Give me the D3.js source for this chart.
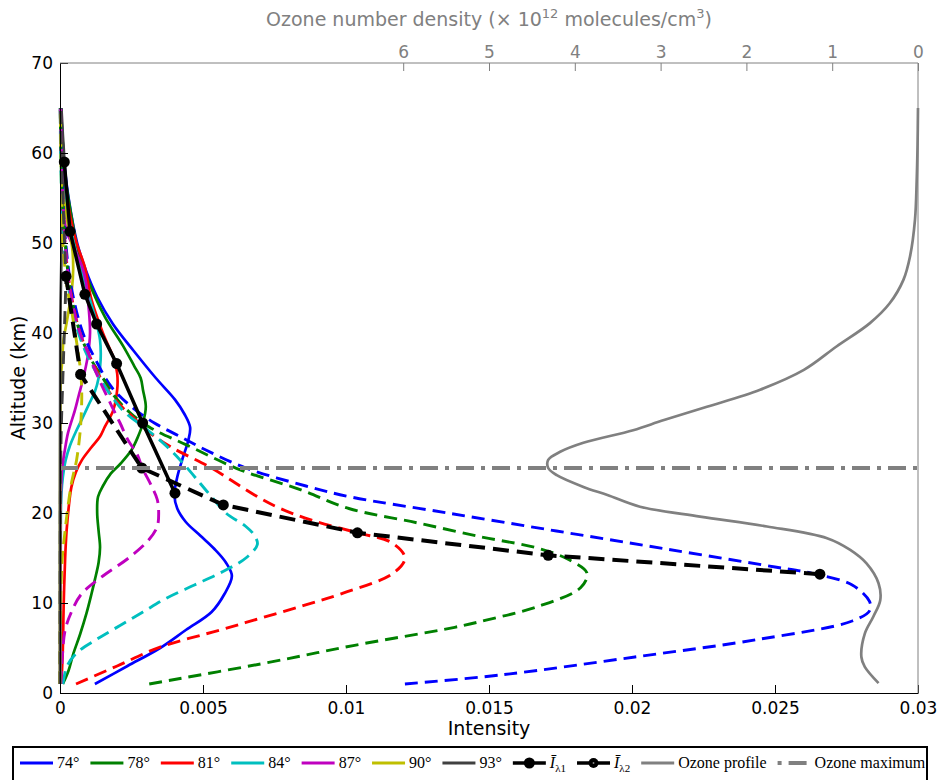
<!DOCTYPE html>
<html><head><meta charset="utf-8">
<script src="https://cdn.jsdelivr.net/npm/d3@7"></script>
<style>body{margin:0;background:#fff}</style>
</head><body><svg id="c" width="940" height="780"></svg>
<script>
// ---------- data ----------
const angles = ["74°","78°","81°","84°","87°","90°","93°"];
const colors = ["#0000ff","#008000","#ff0000","#00bfbf","#bf00bf","#bfbf00","#404040"];

// [altitude km, intensity] for lambda1 (solid)
const solid74 = [[1,0.00122],[3,0.00236],[5,0.0035],[7,0.0044],[9,0.0053],[11,0.00575],[13,0.00601],[14.5,0.0058],[16,0.0054],[17.5,0.0049],[19,0.0044],[20.5,0.0041],[22,0.0040],[24,0.0041],[26,0.00428],[28,0.00448],[29.5,0.00455],[31,0.00435],[32.6,0.00402],[35,0.00335],[38,0.00258],[41,0.00185],[44,0.0013],[47,0.0009],[50,0.0006],[55,0.0003],[60,0.00012],[65,0.00004]];
const solid78 = [[1,0.0001],[2.5,0.0003],[4.4,0.00047],[6.5,0.0007],[8.9,0.00093],[11,0.0011],[12.6,0.00122],[14.5,0.00135],[16.2,0.0014],[18,0.00135],[20,0.0013],[21.8,0.00133],[23,0.0015],[24.4,0.00178],[25.5,0.00212],[27,0.0025],[28.5,0.00273],[30,0.0029],[31.8,0.0030],[33.7,0.0029],[35,0.00282],[36.3,0.0026],[38.6,0.0022],[41.8,0.00157],[45.9,0.00098],[49.2,0.00063],[53,0.0004],[57,0.0002],[61,0.0001],[65,0.00003]];
const solid81 = [[1,0.00005],[5,0.0001],[10,0.00013],[15,0.00018],[18,0.00023],[20.5,0.0003],[22.9,0.0004],[24.5,0.00055],[25.9,0.00077],[27.3,0.0011],[28.5,0.0014],[29.6,0.00157],[31.4,0.00186],[33.7,0.002],[35.5,0.002],[37,0.0019],[40,0.0015],[43.7,0.0011],[47.3,0.00087],[50.3,0.00055],[54,0.0003],[58,0.00015],[62,0.00006],[65,0.00002]];
const solid84 = [[1,0.00002],[10,0.00002],[20,0.00003],[22.2,0.00005],[24,0.0001],[25.9,0.0002],[27.5,0.00035],[29,0.00055],[30.5,0.00078],[32,0.001],[33.5,0.00122],[35,0.00135],[37,0.00142],[39.2,0.0014],[41.8,0.00122],[44.4,0.00098],[48.1,0.00063],[52,0.00035],[56,0.00017],[60,0.00007],[65,0.00002]];
const solid87 = [[1,0.00001],[20,0.00002],[23,0.00004],[25.1,0.00008],[27,0.00017],[28.9,0.00028],[31.4,0.00052],[33,0.00065],[34.8,0.0008],[37.4,0.00097],[40,0.00105],[42.9,0.001],[45.6,0.00091],[47.4,0.00077],[49.6,0.00047],[51.1,0.00025],[53,0.00014],[57,0.00007],[61,0.00003],[65,0.00001]];
const solid90 = [[1,0],[30,0.00001],[35,0.00003],[37,0.00008],[39.2,0.00012],[41.1,0.00023],[43,0.00033],[45,0.00042],[47,0.00046],[49,0.00044],[51,0.00035],[53,0.00022],[56,0.0001],[60,0.00005],[65,0.00002]];
const solid93 = [[1,0],[40,0.00001],[45,0.00003],[50,0.00006],[55,0.0001],[59,0.00015],[62,0.0001],[65,0.00005]];

// [altitude km, intensity] for lambda2 (dashed)
const dashed74 = [[1,0.01206],[2,0.0154],[4,0.0201],[6,0.0245],[8,0.0277],[9.2,0.02832],[10.2,0.0283],[12,0.0277],[13.3,0.0263],[14,0.025],[16,0.0212],[18,0.01736],[20,0.01356],[21.8,0.01014],[23,0.0086],[25,0.0065],[27,0.0051],[28.5,0.0042],[30,0.0033],[31.8,0.0025],[34,0.0018],[37,0.00125],[40,0.0008],[45,0.0004],[50,0.0002],[55,0.0001],[60,0.00004],[65,0.00001]];
const dashed78 = [[1,0.00312],[3.4,0.0073],[5.3,0.0103],[7.3,0.0138],[8.1,0.0149],[9.6,0.0167],[11.7,0.0182],[13.3,0.01843],[14.8,0.0178],[16.1,0.0167],[17.3,0.0148],[18.9,0.0125],[20.5,0.0101],[22.6,0.0084],[24.8,0.0063],[27.6,0.0044],[29.4,0.0032],[31,0.0025],[33,0.0019],[35,0.0015],[37,0.0011],[40,0.0007],[45,0.00035],[50,0.00018],[55,0.00008],[60,0.00003],[65,0.00001]];
const dashed81 = [[1,0.00056],[3,0.002],[5.1,0.0035],[7,0.0056],[8.3,0.007],[9.7,0.0085],[11.1,0.0099],[13.3,0.01165],[15,0.01206],[16.7,0.0116],[17.8,0.0104],[19.2,0.0088],[20.5,0.0077],[22,0.0068],[23.6,0.006],[25,0.0053],[27.3,0.0039],[29,0.0031],[30.5,0.0026],[32,0.0021],[34,0.0016],[37,0.0011],[40,0.0007],[45,0.00035],[50,0.00017],[55,0.00008],[60,0.00003],[65,0.00001]];
const dashed84 = [[1,0.0001],[3,0.00025],[4.5,0.0006],[6,0.0013],[7.5,0.0021],[9,0.0029],[10.5,0.0037],[12,0.0047],[13.5,0.0057],[15,0.0065],[16.5,0.0069],[17.5,0.0068],[18.5,0.0065],[20,0.0058],[21.8,0.0053],[23.3,0.0049],[25.9,0.0042],[27.8,0.0036],[29.6,0.0029],[31.4,0.0022],[34.4,0.0015],[38.1,0.00087],[41.4,0.00052],[45,0.0003],[50,0.00014],[55,0.00006],[60,0.00002],[65,0.00001]];
const dashed87 = [[1,0.00003],[4,0.00008],[7,0.00018],[9,0.0004],[11,0.00075],[13,0.0015],[15,0.0024],[17,0.0031],[18.5,0.0034],[20,0.00345],[21.5,0.0034],[23,0.0032],[25,0.00288],[26.5,0.0027],[28.1,0.00238],[30,0.0021],[31.8,0.00182],[35.1,0.00133],[37.8,0.00098],[40,0.0007],[43,0.00045],[46,0.0003],[50,0.00018],[55,0.0001],[60,0.00005],[65,0.00002]];
const dashed90 = [[1,0],[10,0.00002],[15,0.00008],[17.8,0.00017],[20.5,0.00027],[23.3,0.0004],[25.9,0.00058],[28.9,0.0007],[31.4,0.00075],[33.5,0.00076],[35.5,0.00073],[37.5,0.00065],[39,0.00058],[41,0.00048],[42.6,0.0004],[44.4,0.00028],[47,0.00018],[50,0.0001],[55,0.00006],[60,0.00003],[65,0.00001]];
const dashed93 = [[1,0],[25,0.00002],[30,0.00005],[35,0.0001],[40,0.00015],[46,0.0002],[50,0.00016],[55,0.0001],[60,0.00005],[65,0.00002]];

// mean intensity points (black markers)
const meanAltL1 = [22.2, 30.0, 36.6, 41.0, 44.3, 51.3, 59.0];
const meanIntL1 = [0.00402, 0.00289, 0.00198, 0.00128, 0.00087, 0.00035, 0.00015];
const meanAltL2 = [13.2, 15.3, 17.8, 20.9, 25.0, 35.4, 46.3];
const meanIntL2 = [0.02657, 0.01707, 0.0104, 0.00571, 0.00286, 0.00072, 0.00021];

// ozone profile (x 10^12 molecules/cm^3)
const ozoneAlt = [1.1,2.9,4,6.6,8.5,10.3,12.2,14.4,15.9,17.2,18.5,19.6,20.7,22,22.9,24.2,25,25.9,26.8,27.8,29.2,30.3,31.8,33.7,35.9,38.5,41.1,43.3,45.9,48.5,52.6,57,61,65];
const ozoneDen = [0.46,0.62,0.66,0.62,0.52,0.44,0.46,0.6,0.79,1.06,1.76,2.54,3.24,3.62,3.9,4.21,4.31,4.31,4.17,3.9,3.32,2.97,2.46,1.84,1.33,0.95,0.56,0.33,0.17,0.093,0.035,0.015,0.005,0];
const ozoneMaxAlt = 25;

const xTicks = [0,0.005,0.01,0.015,0.02,0.025,0.03];
const xTickLabels = ["0","0.005","0.01","0.015","0.02","0.025","0.03"];
const yTicks = [0,10,20,30,40,50,60,70];
const topTicks = [0,1,2,3,4,5,6];

// ---------- chart ----------
const svg = d3.select("#c");
const L = 60, R = 918, T = 63, B = 693;
const x = d3.scaleLinear().domain([0,0.03]).range([L,R]);
const y = d3.scaleLinear().domain([0,70]).range([B,T]);
const xTop = d3.scaleLinear().domain([10,0]).range([L,R]);
const sans = "DejaVu Sans";

const solidSeries = [solid74,solid78,solid81,solid84,solid87,solid90,solid93];
const dashedSeries = [dashed74,dashed78,dashed81,dashed84,dashed87,dashed90,dashed93];

const line = d3.line().x(d=>x(d[1])).y(d=>y(d[0])).curve(d3.curveCatmullRom.alpha(0.5));

const gCurves = svg.append("g");
solidSeries.forEach((s,i)=>{
  gCurves.append("path").attr("d",line(s)).attr("fill","none")
    .attr("stroke",colors[i]).attr("stroke-width",2.7).attr("stroke-linejoin","round");
});
dashedSeries.forEach((s,i)=>{
  gCurves.append("path").attr("d",line(s)).attr("fill","none")
    .attr("stroke",colors[i]).attr("stroke-width",2.9).attr("stroke-dasharray","13,7");
});

// black mean lines
const mean1 = meanAltL1.map((a,i)=>[a,meanIntL1[i]]);
const mean2 = meanAltL2.map((a,i)=>[a,meanIntL2[i]]);
const lin = d3.line().x(d=>x(d[1])).y(d=>y(d[0]));
svg.append("path").attr("d",lin(mean1)).attr("fill","none").attr("stroke","#000").attr("stroke-width",3.5);
svg.append("path").attr("d",lin(mean2)).attr("fill","none").attr("stroke","#000").attr("stroke-width",4).attr("stroke-dasharray","16,8");
svg.selectAll(".m1").data(mean1).enter().append("circle")
  .attr("cx",d=>x(d[1])).attr("cy",d=>y(d[0])).attr("r",5.5).attr("fill","#000");
svg.selectAll(".m2").data(mean2).enter().append("circle")
  .attr("cx",d=>x(d[1])).attr("cy",d=>y(d[0])).attr("r",5.5).attr("fill","#000");

// ozone profile + maximum
const ozone = ozoneAlt.map((a,i)=>[a,ozoneDen[i]]);
const oline = d3.line().x(d=>xTop(d[1])).y(d=>y(d[0])).curve(d3.curveCatmullRom.alpha(0.5));
svg.append("path").attr("d",oline(ozone)).attr("fill","none").attr("stroke","#808080").attr("stroke-width",2.7);
svg.append("line").attr("x1",L).attr("x2",R).attr("y1",y(ozoneMaxAlt)).attr("y2",y(ozoneMaxAlt))
  .attr("stroke","#808080").attr("stroke-width",4).attr("stroke-dasharray","18,7,4,7");

// axes
const ax = svg.append("g").attr("transform",`translate(0,${B})`)
  .call(d3.axisBottom(x).tickValues(xTicks).tickFormat((d,i)=>xTickLabels[i]).tickSizeInner(-8).tickSizeOuter(0).tickPadding(9));
const ay = svg.append("g").attr("transform",`translate(${L},0)`)
  .call(d3.axisLeft(y).tickValues(yTicks).tickSizeInner(-8).tickSizeOuter(0).tickPadding(7));
const at = svg.append("g").attr("transform",`translate(0,${T})`)
  .call(d3.axisTop(xTop).tickValues(topTicks).tickSizeInner(-8).tickSizeOuter(0).tickPadding(5));
[ax,ay].forEach(g=>{
  g.selectAll("path,line").attr("stroke","#000");
  g.selectAll("text").attr("font-family",sans).attr("font-size",17).attr("fill","#000");
});
at.select(".domain").remove();
at.selectAll("line").attr("stroke","#808080");
at.selectAll("text").attr("font-family",sans).attr("font-size",17).attr("fill","#808080");
svg.append("line").attr("x1",L).attr("x2",R).attr("y1",T).attr("y2",T).attr("stroke","#808080").attr("stroke-width",1);
svg.append("line").attr("x1",R).attr("x2",R).attr("y1",T).attr("y2",B).attr("stroke","#808080").attr("stroke-width",1);
ay.select(".domain").raise();

// axis labels
svg.append("text").attr("x",(L+R)/2).attr("y",735).attr("text-anchor","middle")
  .attr("font-family",sans).attr("font-size",19).text("Intensity");
svg.append("text").attr("transform",`translate(25,${(T+B)/2}) rotate(-90)`).attr("text-anchor","middle")
  .attr("font-family",sans).attr("font-size",19).text("Altitude (km)");
const title = svg.append("text").attr("x",(L+R)/2).attr("y",26).attr("text-anchor","middle")
  .attr("font-family",sans).attr("font-size",19).attr("fill","#808080");
title.append("tspan").text("Ozone number density (× 10");
title.append("tspan").attr("dy",-8).attr("font-size",13).text("12");
title.append("tspan").attr("dy",8).text(" molecules/cm");
title.append("tspan").attr("dy",-8).attr("font-size",13).text("3");
title.append("tspan").attr("dy",8).text(")");

// legend
const serif = "Liberation Serif";
const lg = svg.append("g");
lg.append("rect").attr("x",13).attr("y",747).attr("width",914).attr("height",60)
  .attr("fill","#fff").attr("stroke","#000").attr("stroke-width",2);
const ly = 763;
let cx = 20;
const items = angles.map((a,i)=>({label:a,color:colors[i],type:"solid"}))
  .concat([{label:"L1",color:"#000",type:"m1"},{label:"L2",color:"#000",type:"m2"},
           {label:"Ozone profile",color:"#808080",type:"oz"},{label:"Ozone maximum",color:"#808080",type:"ozmax"}]);
items.forEach(it=>{
  const l = lg.append("line").attr("x1",cx).attr("x2",cx+33).attr("y1",ly).attr("y2",ly)
    .attr("stroke",it.color).attr("stroke-width",it.type==="m1"||it.type==="m2"?3.5:3);
  if(it.type==="ozmax") l.attr("stroke-width",4).attr("stroke-dasharray","4,7,18,7");
  if(it.type==="m1") lg.append("circle").attr("cx",cx+16.5).attr("cy",ly).attr("r",5.5).attr("fill","#000");
  if(it.type==="m2"){ lg.append("circle").attr("cx",cx+16.5).attr("cy",ly).attr("r",5).attr("fill","#000");
    lg.append("circle").attr("cx",cx+16.5).attr("cy",ly).attr("r",0.9).attr("fill","#888"); }
  const t = lg.append("text").attr("x",cx+37).attr("y",ly+5).attr("font-family",serif).attr("font-size",16).attr("fill","#000");
  if(it.type==="m1"||it.type==="m2"){
    t.append("tspan").attr("font-style","italic").text("Ī");
    t.append("tspan").attr("dy",4).attr("font-size",11).text(it.type==="m1"?"λ1":"λ2");
  } else t.text(it.label);
  cx = cx+37+t.node().getComputedTextLength()+11;
});
</script></body></html>
